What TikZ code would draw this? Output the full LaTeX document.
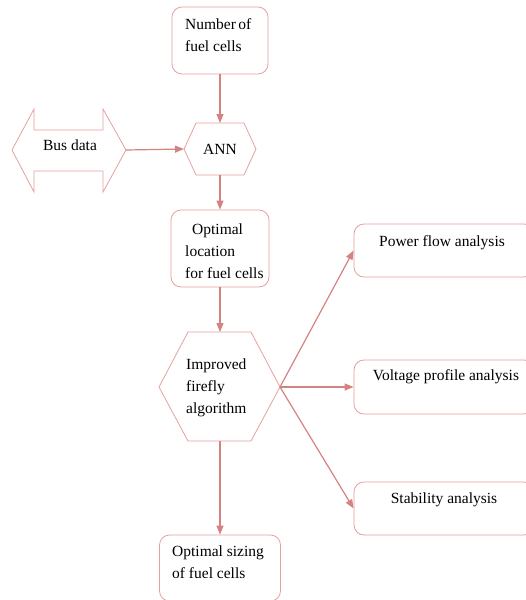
\documentclass[tikz,border=0pt]{standalone}
\usepackage{fontspec}
\setmainfont{Liberation Serif}
\usetikzlibrary{arrows.meta}
\definecolor{edgec}{RGB}{212,130,130}
\definecolor{boxc}{RGB}{228,160,160}
\tikzset{
  box/.style={draw=boxc, line width=0.8pt, rounded corners=10pt, rectangle, inner sep=0pt},
  lbl/.style={inner sep=0pt, font=\fontsize{15.5}{22}\selectfont, align=left},
  conn/.style={draw=edgec, line width=1.2pt, -{Triangle[length=9pt,width=7pt]}},
  shapeline/.style={draw=boxc, line width=0.8pt}
}
\begin{document}
\begin{tikzpicture}[x=1pt,y=-1pt]
\useasboundingbox (0,0) rectangle (526,600);
\clip (0,0) rectangle (526,600);
% boxes
\node[box, minimum width=96pt, minimum height=67pt] (num) at (220,40.5) {};
\node[box, minimum width=98pt, minimum height=77pt] (loc) at (220,248.5) {};
\node[box, minimum width=121pt, minimum height=66pt] (size) at (220,568) {};
\node[box, minimum width=180pt, minimum height=53pt] (pf) at (444,250.5) {};
\node[box, minimum width=180pt, minimum height=54pt] (vp) at (444,387) {};
\node[box, minimum width=180pt, minimum height=53pt] (st) at (444,508.5) {};
% ANN hexagon
\draw[shapeline] (184,149) -- (196,123) -- (244,123) -- (256,149) -- (244,175) -- (196,175) -- cycle;
\coordinate (annN) at (220,123);
\coordinate (annS) at (220,175);
\coordinate (annW) at (184,149);
% IFA hexagon
\draw[shapeline] (159,387) -- (188,332) -- (251,332) -- (280,387) -- (251,441) -- (188,441) -- cycle;
\coordinate (ifaN) at (220,332);
\coordinate (ifaS) at (220,441);
\coordinate (ifaE) at (280,387);
% Bus data double arrow
\draw[shapeline] (12,150) -- (34,109) -- (34,130) -- (103,130) -- (103,109) -- (126,150) -- (103,192) -- (103,171) -- (34,171) -- (34,192) -- cycle;
\coordinate (busE) at (126,150);
% texts
\node[lbl, anchor=north west] at (185,18) {Number\hspace{-1.5pt} of\\fuel cells};
\node[lbl] (bustxt) at (70,145) {Bus data};
\node[lbl] (anntxt) at (220,149) {ANN};
\node[lbl, anchor=north west] at (185,224) {\hspace{7pt}Optimal\\location\\for fuel cells};
\node[lbl, anchor=north west] at (186,359) {Improved\\firefly\\algorithm};
\node[lbl, anchor=north west] at (172,546) {Optimal sizing\\of fuel cells};
\node[lbl] at (442,243) {Power flow analysis};
\node[lbl] at (446,377) {Voltage profile analysis};
\node[lbl] at (444,500) {Stability analysis};
% connectors
\draw[conn] (num.south) -- (annN);
\draw[conn] (busE) -- (annW);
\draw[conn] (annS) -- (loc.north);
\draw[conn] (loc.south) -- (ifaN);
\draw[conn] (ifaS) -- (size.north);
\draw[conn] (ifaE) -- (pf.west);
\draw[conn] (ifaE) -- (vp.west);
\draw[conn] (ifaE) -- (st.west);
\end{tikzpicture}
\end{document}
